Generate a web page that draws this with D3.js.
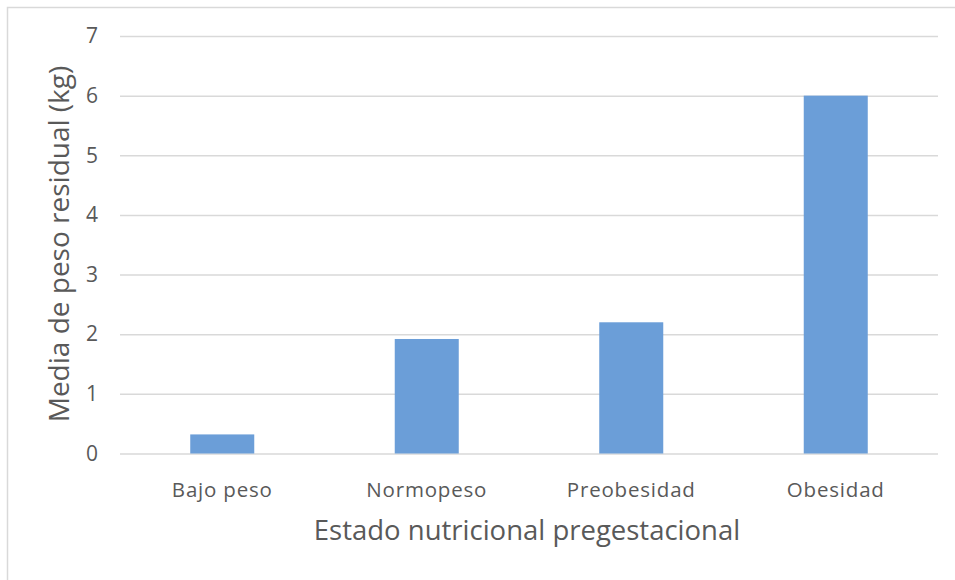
<!DOCTYPE html>
<html><head><meta charset="utf-8">
<script src="https://cdn.jsdelivr.net/npm/d3@7"></script>
<style>body{margin:0;background:#fff}svg{display:block}text{font-family:"Open Sans",sans-serif;fill:#595959}</style>
</head><body>
<svg id="c" width="955" height="580"></svg>
<script>
const categories = ["Bajo peso","Normopeso","Preobesidad","Obesidad"];
const values = [0.32, 1.92, 2.2, 6.0];
const yTicks = [0,1,2,3,4,5,6,7];
const xTitle = "Estado nutricional pregestacional";
const yTitle = "Media de peso residual (kg)";

const svg = d3.select("#c");
svg.append("rect").attr("x",7.5).attr("y",7.5).attr("width",960).attr("height",600)
  .attr("fill","#fff").attr("stroke","#d9d9d9").attr("stroke-width",1.5);

const m = {l:120, r:938, t:36, b:453.5};
const x = d3.scaleBand().domain(categories).range([m.l,m.r]).paddingInner(0.687).paddingOuter(0.3435);
const y = d3.scaleLinear().domain([0,7]).range([m.b,m.t]);

const gy = svg.append("g").attr("transform",`translate(${m.l},0)`)
  .call(d3.axisLeft(y).tickValues(yTicks).tickSize(-(m.r-m.l)).tickPadding(22).tickFormat(d3.format("d")));
gy.select(".domain").remove();
gy.selectAll(".tick line").attr("stroke","#d9d9d9").attr("stroke-width",1.5);
gy.selectAll(".tick text").attr("font-size",21).attr("fill","#595959").style("font-family","'Open Sans',sans-serif");

svg.append("g").selectAll("rect").data(values).join("rect")
  .attr("x",(d,i)=>x(categories[i])).attr("width",x.bandwidth())
  .attr("y",d=>y(d)).attr("height",d=>y(0)-y(d)).attr("fill","#6b9ed8");

const gx = svg.append("g").attr("transform",`translate(0,${m.b})`)
  .call(d3.axisBottom(x).tickSize(0).tickPadding(29));
gx.select(".domain").remove();
gx.selectAll(".tick text").attr("font-size",20.5).attr("fill","#595959").style("font-family","'Open Sans',sans-serif").attr("letter-spacing",0.8);

svg.append("text").attr("x",527).attr("y",540).attr("text-anchor","middle")
  .attr("font-size",27.5).text(xTitle);
svg.append("text").attr("transform","translate(69,244) rotate(-90)").attr("text-anchor","middle")
  .attr("font-size",28).text(yTitle);
</script>
</body></html>
